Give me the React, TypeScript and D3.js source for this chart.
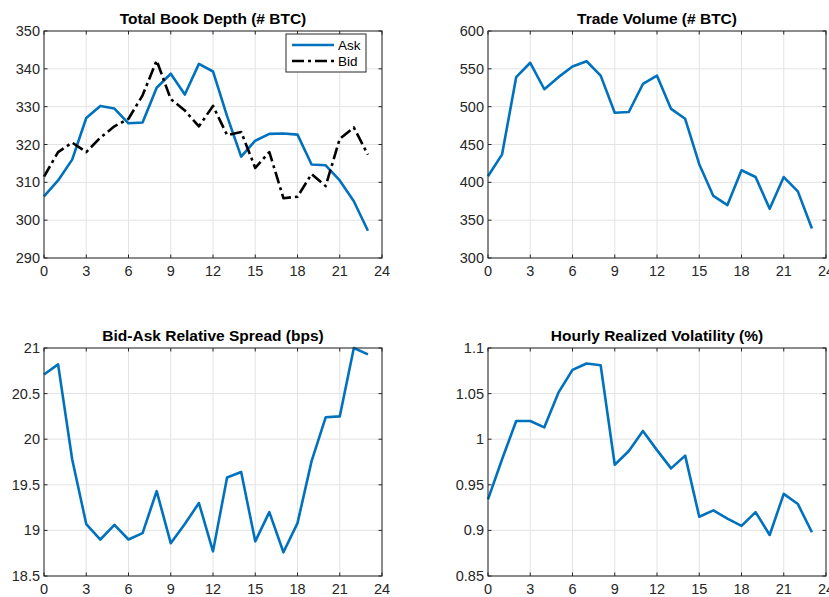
import React from "react";
import * as d3 from "d3";

const hours = d3.range(0, 24);
const askDepth = [306.3, 310.5, 316, 327, 330.2, 329.5, 325.6, 325.8, 335, 338.7, 333.2, 341.3, 339.3, 327.5, 316.8, 321, 322.8, 322.9, 322.6, 314.7, 314.5, 310.5, 305, 297.2];
const bidDepth = [311.5, 318, 320.5, 318, 321.8, 324.8, 326.8, 333, 342.2, 332, 329, 324.8, 330.2, 322.5, 323.3, 313.8, 318, 305.8, 306.2, 312.2, 309, 321.5, 324.5, 317.3];
const tradeVolume = [408, 437, 539, 558, 523, 539, 553, 560, 541, 492, 493, 530, 541, 497, 484, 424, 382, 370, 416, 407, 365, 407, 388, 339];
const spread = [20.71, 20.82, 19.78, 19.07, 18.9, 19.06, 18.9, 18.97, 19.43, 18.86, 19.07, 19.3, 18.77, 19.58, 19.64, 18.88, 19.2, 18.76, 19.08, 19.76, 20.24, 20.25, 21.0, 20.93];
const volatility = [0.934, 0.978, 1.02, 1.02, 1.013, 1.051, 1.076, 1.083, 1.081, 0.972, 0.987, 1.009, 0.988, 0.968, 0.982, 0.915, 0.922, 0.913, 0.905, 0.92, 0.895, 0.94, 0.929, 0.898];

const xTicks = [0, 3, 6, 9, 12, 15, 18, 21, 24];
const depthTicks = [290, 300, 310, 320, 330, 340, 350];
const volumeTicks = [300, 350, 400, 450, 500, 550, 600];
const spreadTicks = [18.5, 19, 19.5, 20, 20.5, 21];
const volTicks = [0.85, 0.9, 0.95, 1, 1.05, 1.1];

const BLUE = "#0072BD";
const AX = "#262626";
const FONT = "'Liberation Sans', Arial, Helvetica, sans-serif";

type Series = { values: number[]; color: string; dash?: string; name: string };

function Panel(props: {
  left: number; top: number; width: number; height: number;
  title: string; yTicks: number[]; series: Series[]; legend?: boolean;
}) {
  const { left, top, width, height, title, yTicks, series, legend } = props;
  const x = d3.scaleLinear().domain([0, 24]).range([0, width]);
  const y = d3.scaleLinear().domain([yTicks[0], yTicks[yTicks.length - 1]]).range([height, 0]);
  const line = d3.line<number>().x((_, i) => x(hours[i])).y((d) => y(d));
  const fmt = (v: number) => String(v);
  return (
    <g transform={`translate(${left},${top})`} fontFamily={FONT}>
      {xTicks.map((t) => (
        <line key={"gx" + t} x1={x(t)} x2={x(t)} y1={0} y2={height} stroke="#e3e3e3" strokeWidth={1} />
      ))}
      {yTicks.map((t) => (
        <line key={"gy" + t} x1={0} x2={width} y1={y(t)} y2={y(t)} stroke="#e3e3e3" strokeWidth={1} />
      ))}
      {series.map((s) => (
        <path key={s.name} d={line(s.values) || ""} fill="none" stroke={s.color} strokeWidth={2.6}
          strokeDasharray={s.dash} strokeLinejoin="round" />
      ))}
      <rect x={0} y={0} width={width} height={height} fill="none" stroke={AX} strokeWidth={1} />
      {xTicks.map((t) => (
        <g key={"tx" + t}>
          <line x1={x(t)} x2={x(t)} y1={height} y2={height - 3.5} stroke={AX} />
          <line x1={x(t)} x2={x(t)} y1={0} y2={3.5} stroke={AX} />
          <text x={x(t)} y={height + 18} textAnchor="middle" fontSize={14.5} fill={AX}>{t}</text>
        </g>
      ))}
      {yTicks.map((t) => (
        <g key={"ty" + t}>
          <line x1={0} x2={3.5} y1={y(t)} y2={y(t)} stroke={AX} />
          <line x1={width} x2={width - 3.5} y1={y(t)} y2={y(t)} stroke={AX} />
          <text x={-4} y={y(t) + 5} textAnchor="end" fontSize={14.5} fill={AX}>{fmt(t)}</text>
        </g>
      ))}
      <text x={width / 2} y={-7} textAnchor="middle" fontSize={15.5} fontWeight="bold" fill="#000">{title}</text>
      {legend && (
        <g transform={`translate(${width - 96},3)`}>
          <rect x={0} y={0} width={80} height={38} fill="#fff" stroke={AX} strokeWidth={1} />
          {series.map((s, i) => (
            <g key={"lg" + s.name}>
              <line x1={6} x2={48} y1={11 + i * 16} y2={11 + i * 16} stroke={s.color} strokeWidth={2.6} strokeDasharray={s.dash} />
              <text x={52} y={16 + i * 16} fontSize={13.5} fill="#000">{s.name}</text>
            </g>
          ))}
        </g>
      )}
    </g>
  );
}

export default function App() {
  const W = 338;
  return (
    <svg width={829} height={597} style={{ position: "absolute", left: 0, top: 0, background: "#fff" }}>
      <rect x={0} y={0} width={829} height={597} fill="#fff" />
      <Panel left={44} top={31} width={W} height={227} title="Total Book Depth (# BTC)" yTicks={depthTicks} legend
        series={[
          { name: "Ask", values: askDepth, color: BLUE },
          { name: "Bid", values: bidDepth, color: "#000", dash: "12,4,3,4" },
        ]} />
      <Panel left={488} top={31} width={W} height={227} title="Trade Volume (# BTC)" yTicks={volumeTicks}
        series={[{ name: "Volume", values: tradeVolume, color: BLUE }]} />
      <Panel left={44} top={348} width={W} height={228} title="Bid-Ask Relative Spread (bps)" yTicks={spreadTicks}
        series={[{ name: "Spread", values: spread, color: BLUE }]} />
      <Panel left={488} top={348} width={W} height={228} title="Hourly Realized Volatility (%)" yTicks={volTicks}
        series={[{ name: "Vol", values: volatility, color: BLUE }]} />
    </svg>
  );
}
